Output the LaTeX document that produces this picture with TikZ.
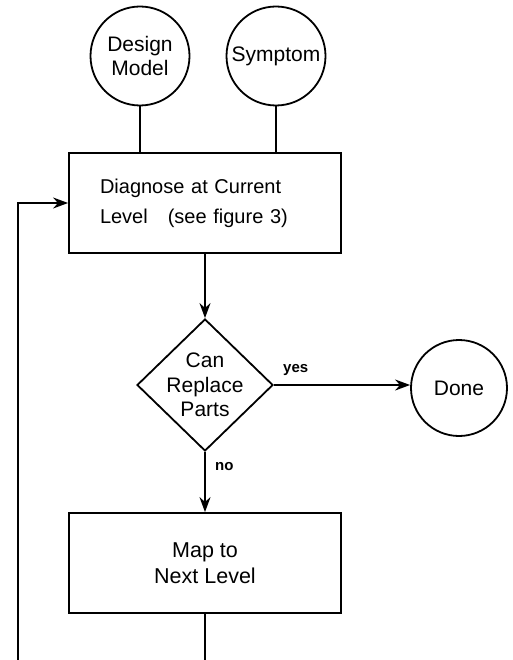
\documentclass[tikz,border=0pt]{standalone}
\usepackage{fontspec}
\setmainfont{Liberation Sans}
\usetikzlibrary{shapes.geometric, positioning, arrows.meta}

\begin{document}
\begin{tikzpicture}[x=1pt, y=-1pt, line width=1.8pt, >={Stealth[length=15pt, width=11pt]}]
    % settings for this picture
    \tikzset{
      every node/.style={font=\fontsize{20}{24}\selectfont},
      terminal/.style={draw, circle, minimum size=99pt, inner sep=0pt, align=center,
        font=\fontsize{21}{24}\selectfont},
      process/.style={draw, rectangle, minimum width=272pt, minimum height=100pt},
      decision/.style={draw, diamond, minimum width=136pt, minimum height=132pt,
        inner sep=-8pt, align=center, font=\fontsize{21}{24.5}\selectfont},
      answer/.style={font=\bfseries\fontsize{15}{17}\selectfont},
    }
    \useasboundingbox (0,0) rectangle (512,660);

    % inputs
    \node[terminal] (model) at (140,56) {Design\\Model};
    \node[terminal] (symptom) at (276,56) {Symptom};

    % steps
    \node[process, text width=210pt, align=left, font=\fontsize{20}{30}\selectfont] (diagnose)
      at (205,203) {Diagnose at Current\\Level\hspace{20pt}(see figure 3)};
    \node[decision] (replace) at (205,385) {Can\\Replace\\Parts};
    \node[terminal, minimum size=96pt] (done) at (459,388) {Done};
    \node[process, align=center, font=\fontsize{21.5}{26}\selectfont] (map) at (205,563)
      {Map to\\Next Level};

    % loose ends
    \coordinate (out) at (205,660);
    \coordinate (back) at (18,660);

    % connectors
    \draw (model) -- (model |- diagnose.north)
          (symptom) -- (symptom |- diagnose.north);
    \draw[->] (diagnose) -- (replace);
    \draw[->] (replace.east) -- node[answer, above=5pt, pos=0.16] {yes} (replace.east -| done.west);
    \draw[->] (replace) -- node[answer, right=6pt, pos=0.25] {no} (map);
    \draw (map) -- (out);
    \draw[->] (back) |- (diagnose.west);

\end{tikzpicture}
\end{document}
